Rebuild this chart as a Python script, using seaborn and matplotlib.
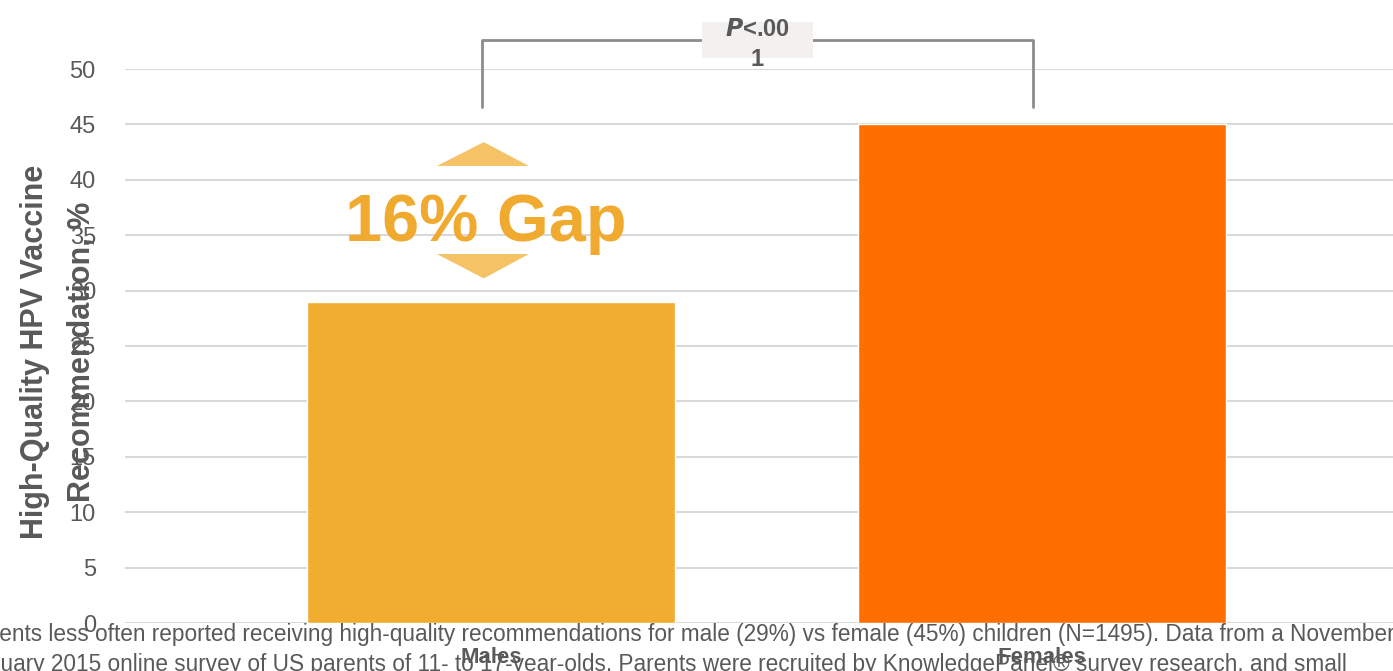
import matplotlib
matplotlib.use("Agg")
import matplotlib.pyplot as plt
import seaborn as sns
import pandas as pd

# data
groups = ["Males", "Females"]
pct = [29, 45]
bar_colors = ["#F0AD30", "#FF6F00"]
yticks = [0, 5, 10, 15, 20, 25, 30, 35, 40, 45, 50]
caption1 = ("Parents less often reported receiving high-quality recommendations for male (29%) "
            "vs female (45%) children (N=1495). Data from a November 2014")
caption2 = ("January 2015 online survey of US parents of 11- to 17-year-olds. Parents were recruited "
            "by KnowledgePanel\u00ae survey research, and small")

df = pd.DataFrame({"group": groups, "pct": pct})

sns.set_theme(style="white")
plt.rcParams["font.family"] = ["Liberation Sans", "DejaVu Sans"]
grey = "#595959"

fig = plt.figure(figsize=(13.93, 6.71), dpi=100)
ax = fig.add_axes([125 / 1393, 48 / 671, 1 - 125 / 1393, (623 - 69) / 671])

sns.barplot(data=df, x="group", y="pct", hue="group", palette=bar_colors,
            legend=False, width=0.668, saturation=1, ax=ax, zorder=3)

ax.set_xlim(-0.664, 1.637)
ax.set_ylim(0, 50)
ax.set_yticks(yticks)
ax.yaxis.grid(True, color="#D9D9D9", lw=1.5, zorder=0)
ax.set_axisbelow(True)
for s in ax.spines.values():
    s.set_visible(False)
ax.tick_params(axis="y", length=0, pad=21, labelsize=17, labelcolor=grey)
ax.tick_params(axis="x", length=0, pad=17, labelsize=16, labelcolor=grey)
for t in ax.get_xticklabels():
    t.set_fontweight("bold")
ax.set_xlabel("")
ax.set_ylabel("High-Quality HPV Vaccine\nRecommendation, %", fontsize=22,
              fontweight="bold", color=grey, linespacing=1.75)
ax.yaxis.set_label_coords(-0.022, 0.49)

# gap annotation
gap = pct[1] - pct[0]
mid = (pct[0] + pct[1]) / 2
gx = -0.01
ax.text(gx, mid - 0.95, f"{gap}% Gap", ha="center", va="center", fontsize=48,
        fontweight="bold", color="#F0AA2F", zorder=5)
arrow_c = "#F5C266"
ax.fill([gx - 0.088, gx + 0.079, gx - 0.003], [mid + 4.25, mid + 4.25, mid + 6.4],
        color=arrow_c, zorder=4, lw=0)
ax.fill([gx - 0.088, gx + 0.079, gx - 0.003], [mid - 3.7, mid - 3.7, mid - 5.9],
        color=arrow_c, zorder=4, lw=0)

# significance bracket
ax.plot([-0.016, -0.016, 0.984, 0.984], [46.6, 52.6, 52.6, 46.6], color="#8C8C8C",
        lw=2, clip_on=False, zorder=4)
ax.add_patch(plt.Rectangle((0.383, 51.0), 0.201, 3.2, facecolor="#F3F1EF",
                           edgecolor="none", clip_on=False, zorder=5))
ax.text(0.4835, 53.6, "$\\mathbfit{P}$<.00", ha="center", va="center", fontsize=17,
        fontweight="bold", color=grey, clip_on=False, zorder=6)
ax.text(0.4835, 50.85, "1", ha="center", va="center", fontsize=17,
        fontweight="bold", color=grey, clip_on=False, zorder=6)

# caption (runs past the figure edges as in the source slide)
fig.text(-36 / 1393, (671 - 635) / 671, caption1, ha="left", va="center", fontsize=16.3, color=grey)
fig.text(-36.5 / 1393, (671 - 664) / 671, caption2, ha="left", va="center", fontsize=16.3, color=grey)

fig.savefig("out.png", dpi=100)
